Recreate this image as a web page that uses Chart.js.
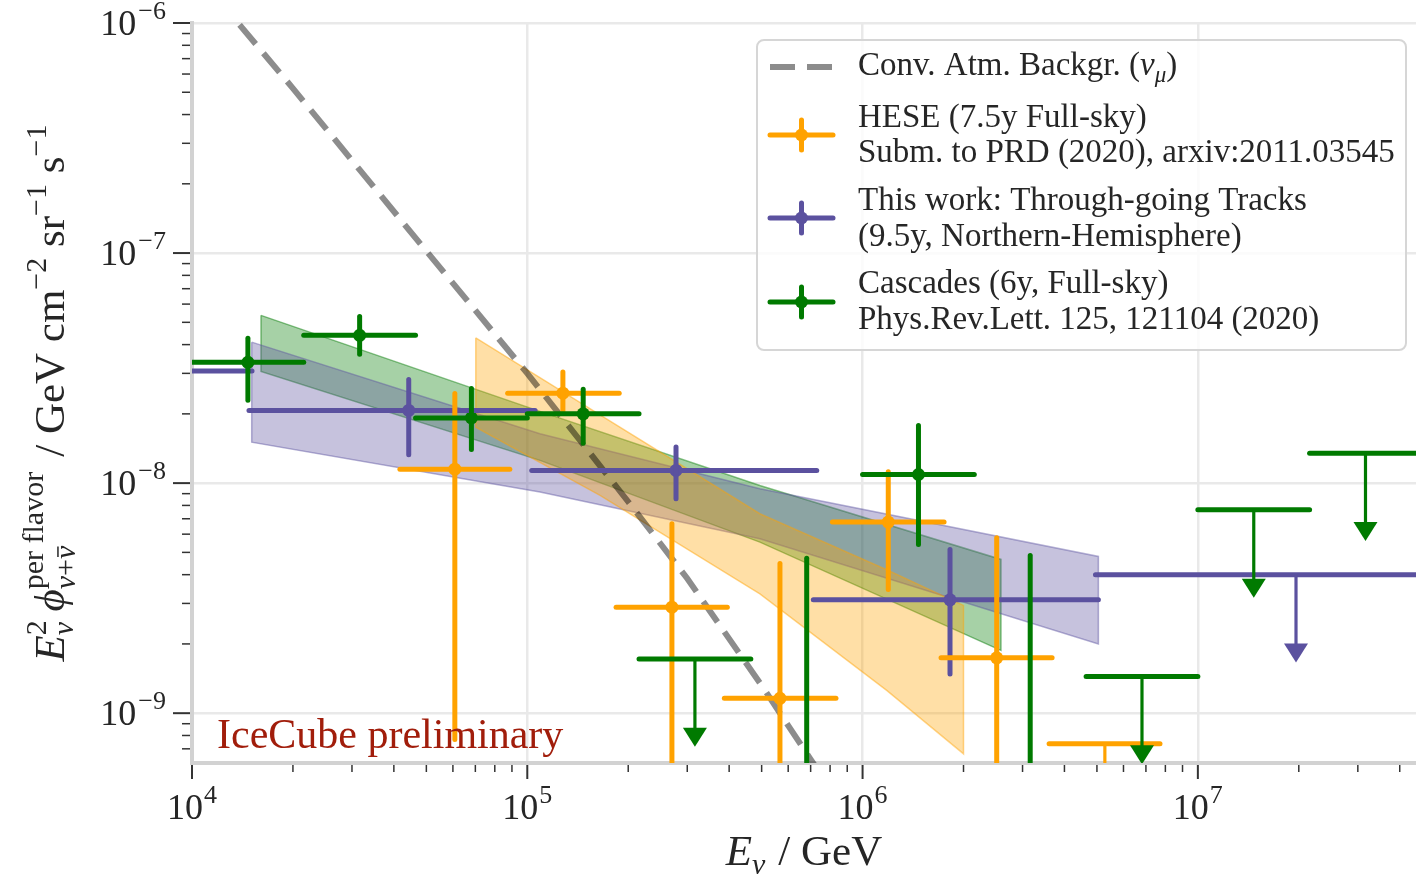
<!DOCTYPE html>
<html>
<head>
<meta charset="utf-8">
<script src="https://cdn.jsdelivr.net/npm/chart.js@4.4.0/dist/chart.umd.min.js"></script>
<style>
  html, body { margin: 0; padding: 0; background: #ffffff; }
  canvas { display: block; }
</style>
</head>
<body>
<canvas id="c" width="1416" height="874" style="width:1416px;height:874px"></canvas>
<script>
// ---------------- data (energies in GeV, E^2 flux in GeV cm^-2 sr^-1 s^-1) ----------------
const atmE    = [1e4, 2e4, 5e4, 1e5, 2e5, 3e5, 5e5, 7e5, 1e6];
const atmFlux = [1.73e-6, 5.2e-7, 1.02e-7, 3.0e-8, 8.3e-9, 3.85e-9, 1.32e-9, 6.3e-10, 2.9e-10];

// HESE 7.5y segmented fit
const heseE    = [6.08e4, 1.277e5, 2.70e5, 5.67e5, 1.193e6, 2.512e6];
const heseElo  = [4.17e4, 8.74e4, 1.84e5, 3.87e5, 8.13e5, 1.714e6];
const heseEhi  = [8.87e4, 1.88e5, 3.95e5, 8.33e5, 1.75e6, 3.675e6];
const heseFlux = [1.15e-8, 2.46e-8, 2.89e-9, 1.16e-9, 6.77e-9, 1.74e-9];
const heseLo   = [7.69e-10, 2.04e-8, 1e-11, 1e-11, 3.45e-9, 1e-11];
const heseHi   = [2.45e-8, 3.04e-8, 6.66e-9, 4.47e-9, 1.12e-8, 5.79e-9];
const heseUlE   = [5.28e6];
const heseUlElo = [3.60e6];
const heseUlEhi = [7.71e6];
const heseUl    = [7.36e-10];

// Through-going tracks 9.5y
const trkE    = [8.0e3, 4.43e4, 2.777e5, 1.823e6];
const trkElo  = [4.5e3, 1.479e4, 1.031e5, 7.13e5];
const trkEhi  = [1.51e4, 1.055e5, 7.30e5, 5.05e6];
const trkFlux = [3.07e-8, 2.07e-8, 1.136e-8, 3.11e-9];
const trkLo   = [2.0e-8, 1.33e-8, 8.55e-9, 1.48e-9];
const trkHi   = [4.2e-8, 2.82e-8, 1.435e-8, 5.15e-9];
const trkUlE   = [1.962e7];
const trkUlElo = [4.95e6];
const trkUlEhi = [1.0e8];
const trkUl    = [4.00e-9];

// Cascades 6y
const cascE    = [1.468e4, 3.162e4, 6.813e4, 1.468e5, 6.813e5, 1.468e6, 3.162e6];
const cascElo  = [1.0e4, 2.154e4, 4.642e4, 1.0e5, 4.642e5, 1.0e6, 2.154e6];
const cascEhi  = [2.154e4, 4.642e4, 1.0e5, 2.154e5, 1.0e6, 2.154e6, 4.642e6];
const cascFlux = [3.35e-8, 4.39e-8, 1.92e-8, 2.00e-8, 3.0e-10, 1.09e-8, 3.0e-10];
const cascLo   = [2.29e-8, 3.63e-8, 1.40e-8, 1.49e-8, 1e-11, 5.41e-9, 1e-11];
const cascHi   = [4.26e-8, 5.30e-8, 2.58e-8, 2.56e-8, 4.72e-9, 1.78e-8, 4.85e-9];
const cascUlE   = [3.162e5, 6.813e6, 1.468e7, 3.162e7];
const cascUlElo = [2.154e5, 4.642e6, 1.0e7, 2.154e7];
const cascUlEhi = [4.642e5, 1.0e7, 2.154e7, 4.642e7];
const cascUl    = [1.72e-9, 1.445e-9, 7.66e-9, 1.35e-8];

// upper-limit arrows reach down to this fraction of the limit
const UL_ARROW_FRACTION = 0.415;

// single power-law fit bands (lower / upper edge)
const cascBandE  = [1.606e4, 1.091e5, 4.94e5, 2.587e6];
const cascBandLo = [3.06e-8, 1.256e-8, 5.54e-9, 1.875e-9];
const cascBandHi = [5.36e-8, 2.05e-8, 9.77e-9, 4.66e-9];
const trkBandE   = [1.507e4, 1.091e5, 4.94e5, 5.05e6];
const trkBandLo  = [1.507e-8, 9.14e-9, 5.73e-9, 2.00e-9];
const trkBandHi  = [4.10e-8, 1.64e-8, 9.46e-9, 4.80e-9];
const heseBandE  = [7.02e4, 1.648e5, 4.94e5, 1.18e6, 2.0e6];
const heseBandLo = [1.75e-8, 8.84e-9, 3.30e-9, 1.256e-9, 6.66e-10];
const heseBandHi = [4.28e-8, 1.98e-8, 7.36e-9, 4.20e-9, 2.94e-9];

// axis ranges
const X_MIN = 1e4, X_MAX = 4.473e7;
const Y_MIN = 6.074e-10, Y_MAX = 1e-6;

// ---------------- styling ----------------
const FONT = '"Liberation Serif", "DejaVu Serif", serif';
const COL_HESE = '#ffa200';
const COL_TRK  = '#5b519f';
const COL_CASC = '#007a00';
const TEXT_COL = '#262626';

function rgba(hex, a) {
  const n = parseInt(hex.slice(1), 16);
  return `rgba(${(n >> 16) & 255},${(n >> 8) & 255},${n & 255},${a})`;
}
function fontStr(size, italic) { return (italic ? 'italic ' : '') + size + 'px ' + FONT; }

// rich text: parts are {t,s,i,dy,bar}, {gap}, or {stack:[[parts],[parts]]}
function runParts(ctx, parts, x, y, draw) {
  let cx = x;
  for (const p of parts) {
    if (p.gap !== undefined) { cx += p.gap; continue; }
    if (p.stack) {
      let w = 0;
      for (const seq of p.stack) w = Math.max(w, runParts(ctx, seq, cx, y, draw));
      cx += w;
      continue;
    }
    ctx.font = fontStr(p.s, p.i);
    const w = ctx.measureText(p.t).width;
    if (draw) {
      ctx.fillText(p.t, cx, y + (p.dy || 0));
      if (p.bar) {
        const by = y + (p.dy || 0) - p.s * 0.56;
        ctx.save();
        ctx.lineWidth = Math.max(1, p.s * 0.05);
        ctx.strokeStyle = ctx.fillStyle;
        ctx.beginPath(); ctx.moveTo(cx + w * 0.15, by); ctx.lineTo(cx + w * 0.95, by); ctx.stroke();
        ctx.restore();
      }
    }
    cx += w;
  }
  return cx - x;
}
function drawRich(ctx, parts, x, y, align) {
  ctx.textAlign = 'left';
  ctx.textBaseline = 'alphabetic';
  const w = runParts(ctx, parts, 0, 0, false);
  let x0 = x;
  if (align === 'center') x0 = x - w / 2;
  else if (align === 'right') x0 = x - w;
  runParts(ctx, parts, x0, y, true);
}

function bandPolygon(E, lo, hi) {
  const pts = E.map((e, i) => ({ x: e, y: hi[i] }));
  for (let i = E.length - 1; i >= 0; i--) pts.push({ x: E[i], y: lo[i] });
  pts.push({ x: E[0], y: hi[0] });
  return pts;
}
function markerPoints(E, F) { return E.map((e, i) => ({ x: e, y: F[i] })); }

const SERIES = [
  { color: COL_TRK,  E: trkE,  Elo: trkElo,  Ehi: trkEhi,  F: trkFlux,  lo: trkLo,  hi: trkHi,
    ulE: trkUlE, ulElo: trkUlElo, ulEhi: trkUlEhi, ul: trkUl },
  { color: COL_HESE, E: heseE, Elo: heseElo, Ehi: heseEhi, F: heseFlux, lo: heseLo, hi: heseHi,
    ulE: heseUlE, ulElo: heseUlElo, ulEhi: heseUlEhi, ul: heseUl },
  { color: COL_CASC, E: cascE, Elo: cascElo, Ehi: cascEhi, F: cascFlux, lo: cascLo, hi: cascHi,
    ulE: cascUlE, ulElo: cascUlElo, ulEhi: cascUlEhi, ul: cascUl },
];

function isDecade(v) {
  const l = Math.log10(v);
  return Math.abs(l - Math.round(l)) < 1e-6;
}
function tickValues(min, max) {
  const out = [];
  for (let d = Math.floor(Math.log10(min)); d <= Math.ceil(Math.log10(max)); d++) {
    for (let m = 1; m <= 9; m++) {
      const v = m * Math.pow(10, d);
      if (v >= min * (1 - 1e-9) && v <= max * (1 + 1e-9)) out.push({ v, m, d });
    }
  }
  return out;
}

// ---------------- plugins ----------------
const errorBarPlugin = {
  id: 'errorBars',
  afterDatasetsDraw(chart) {
    const { ctx, chartArea: a, scales: { x, y } } = chart;
    ctx.save();
    ctx.beginPath();
    ctx.rect(a.left, a.top, a.right - a.left, a.bottom - a.top);
    ctx.clip();
    ctx.lineCap = 'round';
    const seg = (x1, y1, x2, y2, w) => {
      ctx.lineWidth = w;
      ctx.beginPath(); ctx.moveTo(x1, y1); ctx.lineTo(x2, y2); ctx.stroke();
    };
    for (const s of SERIES) {
      ctx.strokeStyle = s.color;
      ctx.fillStyle = s.color;
      s.E.forEach((e, i) => {
        const px = x.getPixelForValue(e);
        const py = y.getPixelForValue(s.F[i]);
        seg(x.getPixelForValue(s.Elo[i]), py, x.getPixelForValue(s.Ehi[i]), py, 5);
        seg(px, y.getPixelForValue(s.hi[i]), px, y.getPixelForValue(s.lo[i]), 5);
      });
      s.ulE.forEach((e, i) => {
        const px = x.getPixelForValue(e);
        const py = y.getPixelForValue(s.ul[i]);
        const tip = y.getPixelForValue(s.ul[i] * UL_ARROW_FRACTION);
        seg(x.getPixelForValue(s.ulElo[i]), py, x.getPixelForValue(s.ulEhi[i]), py, 5);
        ctx.lineCap = 'butt';
        seg(px, py, px, tip - 14, 3.2);
        ctx.lineCap = 'round';
        ctx.beginPath();
        ctx.moveTo(px - 12, tip - 19);
        ctx.lineTo(px + 12, tip - 19);
        ctx.lineTo(px, tip);
        ctx.closePath();
        ctx.fill();
      });
    }
    ctx.restore();

    // watermark
    ctx.save();
    ctx.fillStyle = '#a11d0b';
    ctx.font = fontStr(42, false);
    ctx.textAlign = 'left';
    ctx.textBaseline = 'alphabetic';
    ctx.fillText('IceCube preliminary', 217, 748);
    ctx.restore();
  }
};

const axisPlugin = {
  id: 'axisDecor',
  afterDraw(chart) {
    const { ctx, chartArea: a, scales: { x, y } } = chart;
    ctx.save();
    ctx.strokeStyle = '#333333';
    ctx.lineCap = 'butt';
    const T = 36, TS = 26;
    // x ticks
    for (const t of tickValues(X_MIN, X_MAX)) {
      const px = x.getPixelForValue(t.v);
      const major = t.m === 1;
      ctx.lineWidth = major ? 2 : 1.5;
      ctx.beginPath();
      ctx.moveTo(px, a.bottom + 2);
      ctx.lineTo(px, a.bottom + 2 + (major ? 14 : 7));
      ctx.stroke();
      if (major) {
        ctx.fillStyle = TEXT_COL;
        drawRich(ctx, [{ t: '10', s: T }, { gap: 1 }, { t: String(t.d), s: TS, dy: -0.45 * T }], px, 819, 'center');
      }
    }
    // y ticks
    for (const t of tickValues(Y_MIN, Y_MAX)) {
      const py = y.getPixelForValue(t.v);
      const major = t.m === 1;
      ctx.lineWidth = major ? 2 : 1.5;
      ctx.beginPath();
      ctx.moveTo(a.left - 2, py);
      ctx.lineTo(a.left - 2 - (major ? 17 : 8), py);
      ctx.stroke();
      if (major) {
        ctx.fillStyle = TEXT_COL;
        const exp = String(t.d).replace('-', '\u2212');
        drawRich(ctx, [{ t: '10', s: T }, { gap: 2 }, { t: exp, s: TS, dy: -0.45 * T }], 166, py + 0.33 * T, 'right');
      }
    }
    // axis titles
    const B = 43, S = 30;
    ctx.fillStyle = TEXT_COL;
    drawRich(ctx, [
      { t: 'E', s: B, i: true },
      { t: '\u03bd', s: S, i: true, dy: 0.22 * B },
      { gap: 0.3 * B },
      { t: '/ GeV', s: B }
    ], (a.left + a.right) / 2, 865, 'center');

    ctx.save();
    ctx.translate(64, (a.top + a.bottom) / 2);
    ctx.rotate(-Math.PI / 2);
    drawRich(ctx, [
      { t: 'E', s: B, i: true },
      { stack: [[{ t: '2', s: S, dy: -0.42 * B }], [{ t: '\u03bd', s: S, i: true, dy: 0.22 * B }]] },
      { gap: 0.2 * B },
      { t: '\u03d5', s: B, i: true },
      { stack: [
        [{ t: 'per flavor', s: S, dy: -0.5 * B }],
        [{ t: '\u03bd', s: S, i: true, dy: 0.25 * B }, { t: '+', s: S, dy: 0.25 * B }, { t: '\u03bd', s: S, i: true, dy: 0.25 * B, bar: true }]
      ] },
      { gap: 0.35 * B },
      { t: '/ GeV cm', s: B },
      { t: '\u22122', s: S, dy: -0.42 * B },
      { t: ' sr', s: B },
      { t: '\u22121', s: S, dy: -0.42 * B },
      { t: ' s', s: B },
      { t: '\u22121', s: S, dy: -0.42 * B }
    ], 0, 0, 'center');
    ctx.restore();
    ctx.restore();

    drawLegend(ctx);
  }
};

function drawLegend(ctx) {
  const L = 757, Tp = 40, R = 1406, Bt = 350, rad = 7;
  ctx.save();
  ctx.beginPath();
  ctx.moveTo(L + rad, Tp);
  ctx.arcTo(R, Tp, R, Bt, rad);
  ctx.arcTo(R, Bt, L, Bt, rad);
  ctx.arcTo(L, Bt, L, Tp, rad);
  ctx.arcTo(L, Tp, R, Tp, rad);
  ctx.closePath();
  ctx.fillStyle = 'rgba(255,255,255,0.8)';
  ctx.fill();
  ctx.strokeStyle = '#d6d6d6';
  ctx.lineWidth = 2;
  ctx.stroke();

  // dashed handle
  ctx.strokeStyle = 'rgba(0,0,0,0.45)';
  ctx.lineWidth = 6;
  ctx.setLineDash([25, 12]);
  ctx.beginPath(); ctx.moveTo(770, 67); ctx.lineTo(833, 67); ctx.stroke();
  ctx.setLineDash([]);

  // error-bar handles
  const handle = (col, cy) => {
    ctx.strokeStyle = col; ctx.fillStyle = col; ctx.lineCap = 'round';
    ctx.lineWidth = 5;
    ctx.beginPath(); ctx.moveTo(770, cy); ctx.lineTo(833, cy); ctx.stroke();
    ctx.beginPath(); ctx.moveTo(801.5, cy - 15); ctx.lineTo(801.5, cy + 15); ctx.stroke();
    ctx.beginPath(); ctx.arc(801.5, cy, 6.5, 0, Math.PI * 2); ctx.fill();
  };
  handle(COL_HESE, 135);
  handle(COL_TRK, 218);
  handle(COL_CASC, 302);

  const F = 33;
  ctx.fillStyle = TEXT_COL;
  drawRich(ctx, [{ t: 'Conv. Atm. Backgr. (', s: F }, { t: '\u03bd', s: F, i: true },
                 { t: '\u03bc', s: 23, i: true, dy: 7 }, { t: ')', s: F }], 858, 75, 'left');
  const lines = [
    ['HESE (7.5y Full-sky)', 127],
    ['Subm. to PRD (2020), arxiv:2011.03545', 162],
    ['This work: Through-going Tracks', 210],
    ['(9.5y, Northern-Hemisphere)', 246],
    ['Cascades (6y, Full-sky)', 293],
    ['Phys.Rev.Lett. 125, 121104 (2020)', 329]
  ];
  for (const [t, yb] of lines) drawRich(ctx, [{ t, s: F }], 858, yb, 'left');
  ctx.restore();
}

// ---------------- chart ----------------
const bandDataset = (E, lo, hi, col, order) => ({
  data: bandPolygon(E, lo, hi),
  fill: 'shape',
  backgroundColor: rgba(col, 0.35),
  borderColor: rgba(col, 0.45),
  borderWidth: 1.5,
  pointRadius: 0,
  tension: 0,
  order
});
const markerDataset = (E, F, col) => ({
  data: markerPoints(E, F),
  showLine: false,
  pointRadius: 6.5,
  pointHoverRadius: 6.5,
  pointBorderWidth: 0,
  pointBackgroundColor: col,
  borderColor: col,
  backgroundColor: col,
  order: 0
});

new Chart(document.getElementById('c'), {
  type: 'line',
  data: {
    datasets: [
      markerDataset(trkE, trkFlux, COL_TRK),
      markerDataset(heseE, heseFlux, COL_HESE),
      markerDataset(cascE, cascFlux, COL_CASC),
      {
        data: markerPoints(atmE, atmFlux),
        borderColor: 'rgba(0,0,0,0.45)',
        borderWidth: 6,
        borderDash: [25, 12],
        borderCapStyle: 'butt',
        pointRadius: 0,
        fill: false,
        tension: 0,
        order: 1
      },
      bandDataset(heseBandE, heseBandLo, heseBandHi, COL_HESE, 4),
      bandDataset(trkBandE, trkBandLo, trkBandHi, COL_TRK, 5),
      bandDataset(cascBandE, cascBandLo, cascBandHi, COL_CASC, 6)
    ]
  },
  options: {
    responsive: false,
    animation: false,
    devicePixelRatio: 1,
    layout: { autoPadding: false, padding: { top: 23, left: 0, right: 0, bottom: 0 } },
    plugins: { legend: { display: false }, tooltip: { enabled: false } },
    events: [],
    scales: {
      x: {
        type: 'logarithmic',
        min: X_MIN, max: X_MAX,
        afterFit: s => { s.height = 111; },
        ticks: { display: false },
        grid: {
          drawTicks: false,
          lineWidth: 2.5,
          color: c => (c.tick && isDecade(c.tick.value)) ? '#e9e9e9' : 'rgba(0,0,0,0)'
        },
        border: { display: true, color: '#d2d2d2', width: 4 }
      },
      y: {
        type: 'logarithmic',
        min: Y_MIN, max: Y_MAX,
        afterFit: s => { s.width = 192; },
        ticks: { display: false },
        grid: {
          drawTicks: false,
          lineWidth: 2.5,
          color: c => (c.tick && isDecade(c.tick.value)) ? '#e9e9e9' : 'rgba(0,0,0,0)'
        },
        border: { display: true, color: '#d2d2d2', width: 4 }
      }
    }
  },
  plugins: [errorBarPlugin, axisPlugin]
});
</script>
</body>
</html>
